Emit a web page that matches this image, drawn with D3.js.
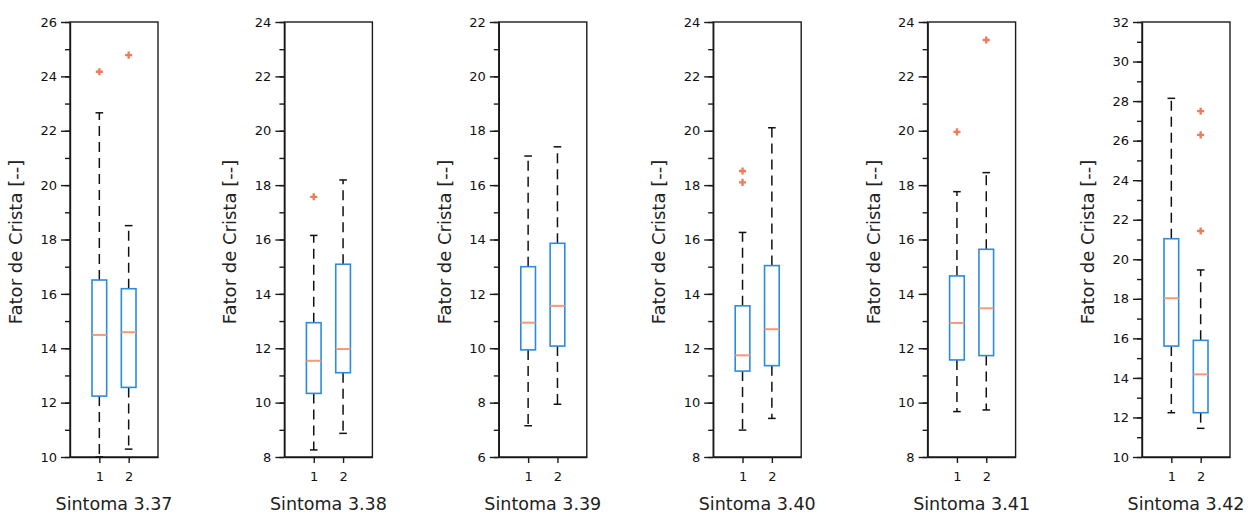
<!DOCTYPE html>
<html>
<head>
<meta charset="utf-8">
<script src="https://cdn.jsdelivr.net/npm/d3@7"></script>
<style>
  body { margin: 0; background: #fff; }
  svg text { font-family: "DejaVu Sans", sans-serif; }
  .axis path, .axis line { stroke: #1a1a1a; stroke-width: 1.4; }
  .axis text { fill: #111; font-size: 13px; }
</style>
</head>
<body>
<div class="canvas"></div>
<script>
// one panel per symptom, two groups (1, 2) in each
const symptoms  = ["Sintoma 3.37", "Sintoma 3.38", "Sintoma 3.39", "Sintoma 3.40", "Sintoma 3.41", "Sintoma 3.42"]
const groups    = [1, 2]
const yDomains  = [[10, 26], [8, 24], [6, 22], [8, 24], [8, 24], [10, 32]]

const whiskLow  = [[10.0, 10.29], [8.26, 8.87], [7.15, 7.94], [8.99, 9.42], [9.67, 9.73], [12.24, 11.45]]
const q1        = [[12.24, 12.56], [10.34, 11.10], [9.94, 10.08], [11.16, 11.36], [11.57, 11.73], [15.61, 12.24]]
const medians   = [[14.49, 14.59], [11.54, 11.97], [10.94, 11.56], [11.74, 12.70], [12.93, 13.47], [18.03, 14.18]]
const q3        = [[16.51, 16.19], [12.94, 15.09], [13.00, 13.86], [13.56, 15.04], [14.66, 15.64], [21.04, 15.90]]
const whiskHigh = [[22.66, 18.51], [16.15, 18.19], [17.07, 17.41], [16.26, 20.11], [17.76, 18.46], [28.14, 19.46]]
const outliers  = [
    [[24.17], [24.78]],
    [[17.57], []],
    [[], []],
    [[18.52, 18.10], []],
    [[19.96], [23.34]],
    [[], [27.49, 26.29, 21.43]]
]

const width  = 1255
const height = 516
const plotTop    = 22
const plotBottom = 457
const panelW = 88

const svg = d3.select(".canvas")
    .append("svg")
    .attr("width", width)
    .attr("height", height)

symptoms.forEach((name, i) => {
    const left = 70 + i * 214.4
    const x = d3.scaleLinear().domain([0, 3]).range([left, left + panelW])
    const y = d3.scaleLinear().domain(yDomains[i]).range([plotBottom, plotTop])
    const [lo, hi] = yDomains[i]

    const g = svg.append("g")

    // minor ticks every 1
    g.append("g")
        .attr("class", "axis")
        .attr("transform", `translate(${left},0)`)
        .call(d3.axisLeft(y).tickValues(d3.range(lo, hi + 1, 1)).tickSize(5).tickFormat(""))
        .call(a => a.select(".domain").remove())

    // major ticks every 2
    g.append("g")
        .attr("class", "axis")
        .attr("transform", `translate(${left},0)`)
        .call(d3.axisLeft(y).tickValues(d3.range(lo, hi + 1, 2)).tickSize(9).tickPadding(4).tickSizeOuter(0))

    g.append("g")
        .attr("class", "axis")
        .attr("transform", `translate(0,${plotBottom})`)
        .call(d3.axisBottom(x).tickValues(groups).tickFormat(d3.format("d")).tickSize(6).tickPadding(9).tickSizeOuter(0))

    // frame
    g.append("rect")
        .attr("x", left)
        .attr("y", plotTop)
        .attr("width", panelW)
        .attr("height", plotBottom - plotTop)
        .attr("fill", "none")
        .attr("stroke", "#1a1a1a")
        .attr("stroke-width", 1.4)

    g.append("text")
        .attr("x", left + panelW / 2)
        .attr("y", 510)
        .attr("text-anchor", "middle")
        .attr("font-size", 17.5)
        .attr("fill", "#222")
        .text(name)

    g.append("text")
        .attr("transform", `translate(${left - 48},242) rotate(-90)`)
        .attr("text-anchor", "middle")
        .attr("font-size", 18)
        .attr("fill", "#222")
        .text("Fator de Crista [--]")

    groups.forEach((k, j) => {
        const cx = x(k)
        // whiskers
        g.append("line")
            .attr("x1", cx).attr("x2", cx)
            .attr("y1", y(q3[i][j])).attr("y2", y(whiskHigh[i][j]))
            .attr("stroke", "#111").attr("stroke-width", 1.5).attr("stroke-dasharray", "10,6")
        g.append("line")
            .attr("x1", cx).attr("x2", cx)
            .attr("y1", y(q1[i][j])).attr("y2", y(whiskLow[i][j]))
            .attr("stroke", "#111").attr("stroke-width", 1.5).attr("stroke-dasharray", "10,6")
        ;[whiskHigh[i][j], whiskLow[i][j]].forEach(v => {
            g.append("line")
                .attr("x1", x(k - 0.13)).attr("x2", x(k + 0.13))
                .attr("y1", y(v)).attr("y2", y(v))
                .attr("stroke", "#111").attr("stroke-width", 1.5)
        })
        // box
        g.append("rect")
            .attr("x", x(k - 0.25))
            .attr("y", y(q3[i][j]))
            .attr("width", x(k + 0.25) - x(k - 0.25))
            .attr("height", y(q1[i][j]) - y(q3[i][j]))
            .attr("fill", "#fff")
            .attr("stroke", "#2b8be0")
            .attr("stroke-width", 1.6)
        g.append("line")
            .attr("x1", x(k - 0.25)).attr("x2", x(k + 0.25))
            .attr("y1", y(medians[i][j])).attr("y2", y(medians[i][j]))
            .attr("stroke", "#f59a74").attr("stroke-width", 2)
        // outliers
        g.selectAll(null)
            .data(outliers[i][j])
            .enter()
            .append("path")
            .attr("d", d3.symbol(d3.symbolCross, 28))
            .attr("transform", d => `translate(${cx},${y(d)})`)
            .attr("fill", "#f37a58")
    })
})
</script>
</body>
</html>
